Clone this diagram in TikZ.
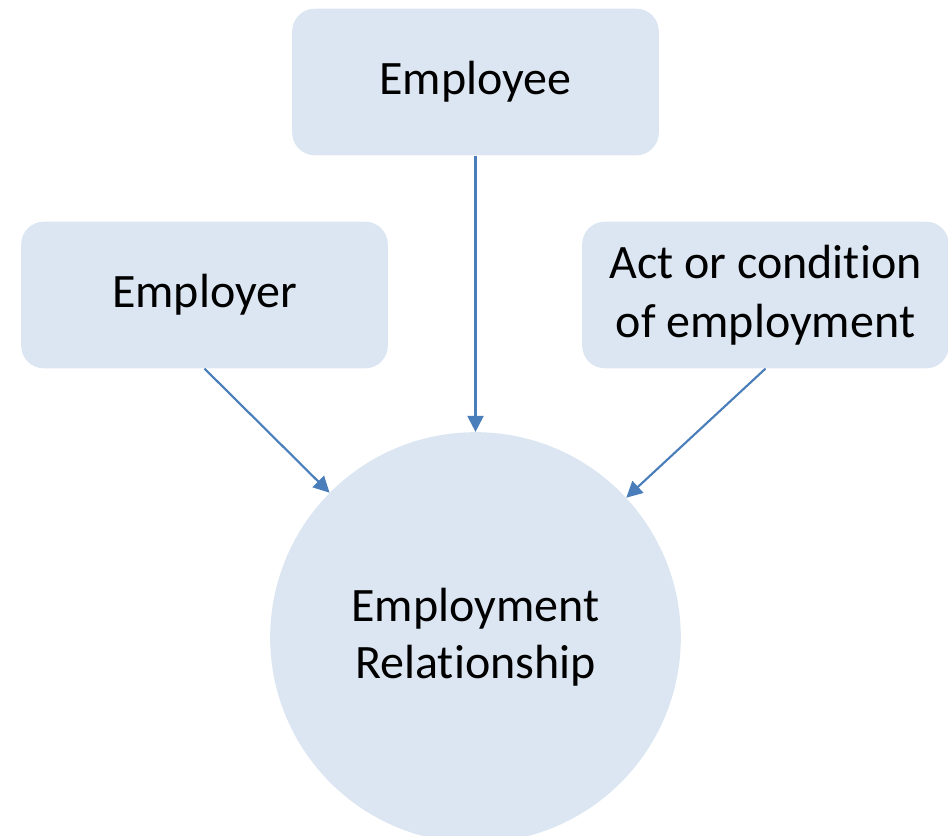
\documentclass[tikz,border=0pt]{standalone}
\usepackage{fontspec}
\setmainfont{Carlito}[Ligatures=NoCommon]
\usetikzlibrary{arrows.meta}
\definecolor{boxfill}{HTML}{DCE6F2}
\definecolor{arrowblue}{HTML}{4A7EBB}
\tikzset{
	partbox/.style={fill=boxfill, rounded corners=17pt, minimum width=275pt, minimum height=110pt, align=center, font=\fontsize{36}{44}\selectfont},
	relcircle/.style={circle, fill=boxfill, minimum size=308pt, inner sep=0pt, align=center, font=\fontsize{36}{43}\selectfont},
	linkarrow/.style={draw=arrowblue, line width=1.6pt, -{Triangle[length=12pt, width=12pt, fill=arrowblue]}}
}
\begin{document}
\begin{tikzpicture}[x=0.75pt, y=-0.75pt]
			%%%%% START %%%%%
			
			\useasboundingbox (0, 0) rectangle (948, 835);
			
			\node[partbox] (employee) at (475.5, 82) {Employee};
			\node[partbox] (employer) at (204.5, 295) {Employer};
			\node[partbox] (actcond) at (765.5, 295) {Act or condition\\of employment};
			
			\node[relcircle] (relation) at (475.5, 637.5) {Employment\\Relationship};
			
			\draw[linkarrow] (employee.south) -- (relation);
			\draw[linkarrow] (employer.south) -- (relation);
			\draw[linkarrow] (actcond.south) -- (relation);
			
			%%%%% END %%%%%
		\end{tikzpicture}
\end{document}
